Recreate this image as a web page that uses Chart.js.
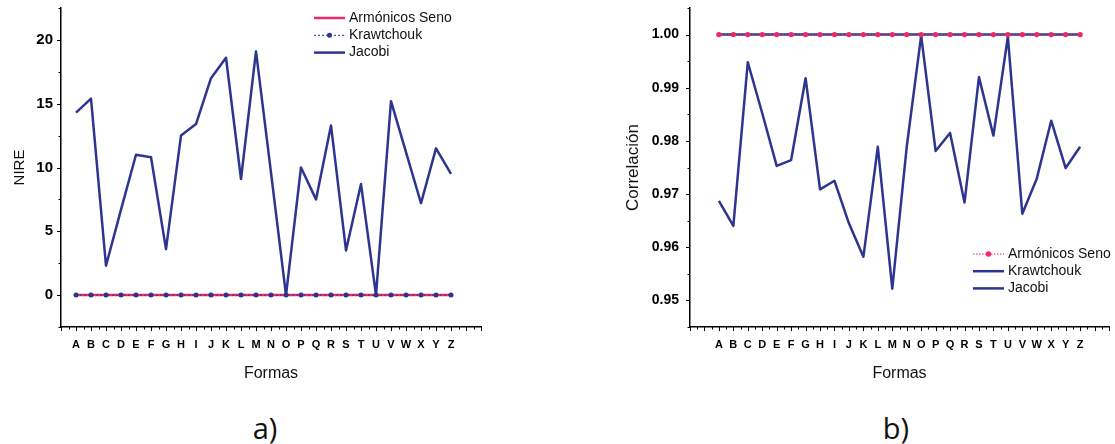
<!DOCTYPE html>
<html>
<head>
<meta charset="utf-8">
<script src="https://cdn.jsdelivr.net/npm/chart.js@4.4.1/dist/chart.umd.min.js"></script>
<style>
html, body { margin: 0; padding: 0; background: #fff; }
#wrap { position: relative; width: 1115px; height: 444px; overflow: hidden; }
canvas { position: absolute; top: 0; }
#chartA { left: 0; }
#chartB { left: 557px; }
.lbl { position: absolute; font-family: "Open Sans", sans-serif; font-size: 29px; line-height: 1; transform: translate(-50%, -50%); color: #111; }
</style>
</head>
<body>
<div id="wrap">
  <canvas id="chartA" width="557" height="400"></canvas>
  <canvas id="chartB" width="558" height="400"></canvas>
  <div class="lbl" style="left:265px;top:427px">a)</div>
  <div class="lbl" style="left:896px;top:427px">b)</div>
</div>
<script>
// letras (formas) del eje x
const formas = ['A','B','C','D','E','F','G','H','I','J','K','L','M','N','O','P','Q','R','S','T','U','V','W','X','Y','Z'];

// a) NIRE
const nireSeno = [0,0,0,0,0,0,0,0,0,0,0,0,0,0,0,0,0,0,0,0,0,0,0,0,0,0];
const nireKrawtchouk = [0,0,0,0,0,0,0,0,0,0,0,0,0,0,0,0,0,0,0,0,0,0,0,0,0,0];
const nireJacobi = [14.3, 15.4, 2.3, 6.7, 11.0, 10.8, 3.6, 12.5, 13.4, 17.0, 18.6, 9.1, 19.1,
                    9.6, 0.0, 10.0, 7.5, 13.3, 3.5, 8.7, 0.0, 15.2, 11.2, 7.2, 11.5, 9.5];

// b) Correlación
const corrSeno = [1,1,1,1,1,1,1,1,1,1,1,1,1,1,1,1,1,1,1,1,1,1,1,1,1,1];
const corrKrawtchouk = [1,1,1,1,1,1,1,1,1,1,1,1,1,1,1,1,1,1,1,1,1,1,1,1,1,1];
const corrJacobi = [0.9687, 0.9640, 0.9948, 0.9852, 0.9753, 0.9764, 0.9918, 0.9709, 0.9725,
                    0.9645, 0.9582, 0.9789, 0.9522, 0.9789, 0.9998, 0.9781, 0.9815, 0.9684,
                    0.9920, 0.9810, 0.9996, 0.9663, 0.9729, 0.9838, 0.9749, 0.9789];

const rosa = '#ec2a66';
const azul = '#2d3590';
const fuente = '"Liberation Sans", Arial, sans-serif';

const puntos = vals => vals.map((v, i) => ({ x: i, y: v }));

// marcas de los ejes: largas en los valores principales, cortas en los secundarios
const marcas = {
    id: 'marcas',
    afterDraw(chart, args, opts) {
        const { ctx } = chart;
        const sx = chart.scales.x, sy = chart.scales.y;
        const esMayor = (v, paso) => Math.abs(v / paso - Math.round(v / paso)) < 1e-6;
        ctx.save();
        ctx.strokeStyle = '#000';
        ctx.lineWidth = 1;
        sx.ticks.forEach(t => {
            const px = Math.round(sx.getPixelForValue(t.value)) + 0.5;
            const len = esMayor(t.value, opts.pasoX) ? 4 : 2.5;
            ctx.beginPath();
            ctx.moveTo(px, sx.top);
            ctx.lineTo(px, sx.top + len);
            ctx.stroke();
        });
        sy.ticks.forEach(t => {
            const py = Math.round(sy.getPixelForValue(t.value)) + 0.5;
            const len = esMayor(t.value, opts.pasoY) ? 4 : 2.5;
            ctx.beginPath();
            ctx.moveTo(sy.right, py);
            ctx.lineTo(sy.right - len, py);
            ctx.stroke();
        });
        ctx.restore();
    }
};

// leyenda dentro del área del gráfico, a partir de los datasets
const leyenda = {
    id: 'leyenda',
    afterDraw(chart, args, opts) {
        const { ctx } = chart;
        ctx.save();
        ctx.font = '14px ' + fuente;
        ctx.textBaseline = 'middle';
        chart.data.datasets.forEach((ds, i) => {
            const y = opts.y + i * opts.gap;
            ctx.strokeStyle = ds.borderColor;
            ctx.lineWidth = ds.borderWidth;
            ctx.setLineDash(ds.borderDash || []);
            ctx.beginPath();
            ctx.moveTo(opts.x, y);
            ctx.lineTo(opts.x + opts.len, y);
            ctx.stroke();
            ctx.setLineDash([]);
            if (ds.pointRadius > 0) {
                ctx.fillStyle = ds.pointBackgroundColor;
                ctx.beginPath();
                ctx.arc(opts.x + opts.len / 2, y, ds.pointRadius, 0, 2 * Math.PI);
                ctx.fill();
            }
            ctx.fillStyle = '#111';
            ctx.fillText(ds.label, opts.x + opts.len + 4, y);
        });
        ctx.restore();
    }
};

function ejeX(minX) {
    return {
        type: 'linear',
        min: minX,
        max: 27,
        afterFit: s => { s.height = 73; s.paddingLeft = 0; s.paddingRight = 0; },
        border: { display: true, color: '#000', width: 1.5 },
        grid: { display: true, drawOnChartArea: false, tickLength: 4, tickColor: 'transparent' },
        ticks: {
            stepSize: 0.5,
            autoSkip: false,
            maxRotation: 0,
            maxTicksLimit: 200,
            padding: 7,
            color: '#000',
            font: { family: fuente, size: 11, weight: 'bold' },
            callback: v => (Number.isInteger(v) && v >= 0 && v < formas.length) ? formas[v] : ''
        },
        title: {
            display: true,
            text: 'Formas',
            color: '#111',
            font: { family: fuente, size: 16 },
            padding: { top: 0, bottom: 17 }
        }
    };
}

const comunes = {
    responsive: false,
    animation: false,
    events: [],
    elements: { line: { tension: 0, borderJoinStyle: 'round', borderCapStyle: 'butt' } },
    plugins: { legend: { display: false }, tooltip: { enabled: false } }
};

new Chart(document.getElementById('chartA'), {
    type: 'line',
    data: {
        datasets: [
            { label: 'Armónicos Seno', data: puntos(nireSeno), borderColor: rosa, borderWidth: 2.5,
              pointRadius: 0, order: 2 },
            { label: 'Krawtchouk', data: puntos(nireKrawtchouk), borderColor: azul, borderWidth: 1,
              borderDash: [2, 2], pointRadius: 2.5, pointBackgroundColor: azul, pointBorderWidth: 0, order: 1 },
            { label: 'Jacobi', data: puntos(nireJacobi), borderColor: azul, borderWidth: 2.5,
              pointRadius: 0, order: 0 }
        ]
    },
    options: {
        ...comunes,
        layout: { padding: { top: 8, right: 76, bottom: 0, left: 0 } },
        scales: {
            x: ejeX(-1),
            y: {
                min: -2.5,
                max: 22.5,
                afterFit: s => { s.width = 61; s.paddingTop = 0; s.paddingBottom = 0; },
                border: { display: true, color: '#000', width: 1.5 },
                grid: { display: true, drawOnChartArea: false, tickLength: 4, tickColor: 'transparent' },
                ticks: {
                    stepSize: 2.5,
                    autoSkip: false,
                    padding: 4,
                    color: '#000',
                    font: { family: fuente, size: 15, weight: 'bold' },
                    callback: v => (v % 5 === 0) ? String(v) : ''
                },
                title: {
                    display: true,
                    text: 'NIRE',
                    color: '#111',
                    font: { family: fuente, size: 15 },
                    padding: { top: 11, bottom: 0 }
                }
            }
        },
        plugins: {
            ...comunes.plugins,
            marcas: { pasoX: 1, pasoY: 5 },
            leyenda: { x: 314, y: 18, gap: 17.3, len: 31 }
        }
    },
    plugins: [marcas, leyenda]
});

new Chart(document.getElementById('chartB'), {
    type: 'line',
    data: {
        datasets: [
            { label: 'Armónicos Seno', data: puntos(corrSeno), borderColor: rosa, borderWidth: 1,
              borderDash: [1.5, 1.5], pointRadius: 2.7, pointBackgroundColor: rosa, pointBorderWidth: 0, order: 0 },
            { label: 'Krawtchouk', data: puntos(corrKrawtchouk), borderColor: azul, borderWidth: 2.5,
              pointRadius: 0, order: 1 },
            { label: 'Jacobi', data: puntos(corrJacobi), borderColor: azul, borderWidth: 2.5,
              pointRadius: 0, order: 2 }
        ]
    },
    options: {
        ...comunes,
        layout: { padding: { top: 8, right: 6, bottom: 0, left: 0 } },
        scales: {
            x: ejeX(-2),
            y: {
                min: 0.945,
                max: 1.005,
                afterFit: s => { s.width = 133; s.paddingTop = 0; s.paddingBottom = 0; },
                border: { display: true, color: '#000', width: 1.5 },
                grid: { display: true, drawOnChartArea: false, tickLength: 4, tickColor: 'transparent' },
                ticks: {
                    stepSize: 0.005,
                    autoSkip: false,
                    padding: 7,
                    color: '#000',
                    font: { family: fuente, size: 14, weight: 'bold' },
                    callback: v => (Math.abs(v * 100 - Math.round(v * 100)) < 1e-6) ? v.toFixed(2) : ''
                },
                title: {
                    display: true,
                    text: 'Correlación',
                    color: '#111',
                    font: { family: fuente, size: 17 },
                    padding: { top: 66, bottom: 0 }
                }
            }
        },
        plugins: {
            ...comunes.plugins,
            marcas: { pasoX: 1, pasoY: 0.01 },
            leyenda: { x: 416, y: 254, gap: 17.2, len: 31 }
        }
    },
    plugins: [marcas, leyenda]
});
</script>
</body>
</html>
